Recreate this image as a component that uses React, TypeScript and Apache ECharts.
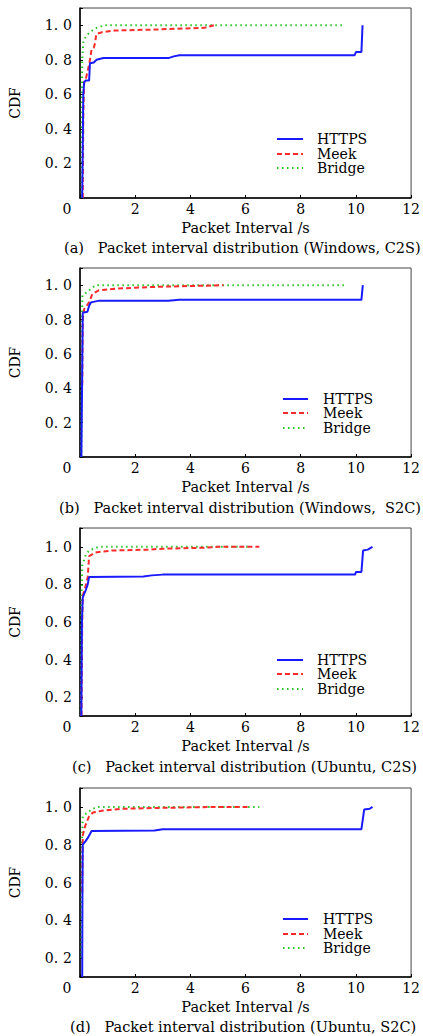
import React, { useEffect, useRef } from "react";
import * as echarts from "echarts";

// ---- Data ----
const seriesNames = ["HTTPS", "Meek", "Bridge"];
const xTicks = [0, 2, 4, 6, 8, 10, 12];
const NB = "\u00a0";
const captions = [
  `(a)${NB}${NB}${NB}Packet interval distribution (Windows, C2S)`,
  `(b)${NB}${NB}${NB}Packet interval distribution (Windows,${NB}${NB}S2C)`,
  `(c)${NB}${NB}${NB}Packet interval distribution (Ubuntu, C2S)`,
  `(d)${NB}${NB}${NB}Packet interval distribution (Ubuntu, S2C)`,
];
const yMins = [0, 0, 0.1, 0.1];

const httpsA = [[0.08, 0], [0.1, 0.3], [0.12, 0.6], [0.15, 0.67], [0.2, 0.68], [0.33, 0.68], [0.36, 0.78], [0.5, 0.785], [0.6, 0.8], [0.85, 0.81], [3.2, 0.81], [3.4, 0.82], [3.6, 0.826], [9.95, 0.826], [10.0, 0.845], [10.2, 0.845], [10.24, 1.0]];
const meekA = [[0.1, 0], [0.12, 0.5], [0.15, 0.67], [0.21, 0.69], [0.3, 0.75], [0.36, 0.8], [0.42, 0.86], [0.5, 0.87], [0.55, 0.9], [0.59, 0.95], [0.8, 0.96], [1.27, 0.97], [2.7, 0.975], [3.5, 0.98], [4.5, 0.985], [4.85, 1.0]];
const bridgeA = [[0.06, 0], [0.07, 0.5], [0.08, 0.8], [0.12, 0.9], [0.2, 0.93], [0.3, 0.95], [0.45, 0.97], [0.6, 0.985], [0.9, 1.0], [9.5, 1.0]];

const httpsB = [[0.05, 0], [0.08, 0.5], [0.1, 0.84], [0.27, 0.845], [0.33, 0.88], [0.4, 0.9], [0.7, 0.91], [3.2, 0.91], [3.6, 0.915], [10.2, 0.915], [10.25, 1.0]];
const meekB = [[0.08, 0.42], [0.1, 0.8], [0.15, 0.86], [0.33, 0.9], [0.45, 0.95], [0.68, 0.97], [1.3, 0.98], [2.7, 0.99], [4.0, 0.995], [5.2, 1.0]];
const bridgeB = [[0.05, 0], [0.07, 0.8], [0.09, 0.94], [0.33, 0.97], [0.56, 1.0], [9.67, 1.0]];

const httpsC = [[0.05, 0.1], [0.07, 0.6], [0.1, 0.73], [0.15, 0.75], [0.21, 0.77], [0.28, 0.8], [0.33, 0.84], [2.3, 0.842], [2.6, 0.848], [3.0, 0.852], [9.97, 0.852], [10.0, 0.866], [10.2, 0.866], [10.26, 0.98], [10.43, 0.985], [10.6, 1.0]];
const meekC = [[0.05, 0.1], [0.08, 0.6], [0.1, 0.74], [0.2, 0.79], [0.28, 0.84], [0.33, 0.95], [0.56, 0.97], [1.15, 0.98], [2.5, 0.985], [3.0, 0.99], [4.5, 0.995], [5.0, 1.0], [6.5, 1.0]];
const bridgeC = [[0.03, 0.1], [0.05, 0.7], [0.08, 0.9], [0.15, 0.93], [0.21, 0.96], [0.33, 0.98], [0.5, 0.99], [0.68, 1.0], [6.1, 1.0]];

const httpsD = [[0.08, 0.1], [0.09, 0.6], [0.1, 0.8], [0.21, 0.82], [0.3, 0.84], [0.42, 0.872], [2.7, 0.875], [3.0, 0.882], [10.2, 0.882], [10.3, 0.986], [10.5, 0.99], [10.6, 1.0]];
const meekD = [[0.08, 0.55], [0.1, 0.85], [0.19, 0.9], [0.33, 0.95], [0.47, 0.97], [0.8, 0.98], [1.5, 0.99], [3.0, 0.995], [5.0, 1.0], [6.1, 1.0]];
const bridgeD = [[0.05, 0.2], [0.07, 0.8], [0.1, 0.95], [0.27, 0.97], [0.45, 0.99], [0.68, 1.0], [6.5, 1.0]];

const panelData = [
  [httpsA, meekA, bridgeA],
  [httpsB, meekB, bridgeB],
  [httpsC, meekC, bridgeC],
  [httpsD, meekD, bridgeD],
];

// ---- Styles / layout ----
const FONT = "DejaVu Serif";
const grids = [
  { top: 8, height: 190 },
  { top: 268, height: 189 },
  { top: 528, height: 188 },
  { top: 788, height: 189 },
];
const legendPos = [
  { x1: 277, x2: 303, tx: 317, ys: [139, 154, 168] },
  { x1: 283, x2: 308, tx: 323, ys: [399, 413, 428] },
  { x1: 277, x2: 303, tx: 317, ys: [660, 674, 689] },
  { x1: 283, x2: 308, tx: 323, ys: [919, 934, 948] },
];
const captionPos = [
  { x: 64, y: 248 },
  { x: 59, y: 508 },
  { x: 72, y: 767 },
  { x: 70, y: 1027 },
];
const lineStyles = [
  { color: "#1a1aff", width: 2, type: "solid" as any },
  { color: "#ff2a2a", width: 2, type: [5, 3] as any },
  { color: "#22c522", width: 2, type: [1.5, 3.5] as any },
];

export default function App() {
  const ref = useRef<HTMLDivElement>(null);
  useEffect(() => {
    if (!ref.current) return;
    const chart = echarts.init(ref.current, undefined, { renderer: "svg" });

    const gridOpt = grids.map((g) => ({
      left: 75,
      width: 338,
      top: g.top,
      height: g.height,
      show: true,
      borderColor: "#444",
      borderWidth: 1,
      backgroundColor: "transparent",
    }));

    const xAxes = grids.map((_, i) => ({
      type: "value",
      gridIndex: i,
      min: xTicks[0],
      max: xTicks[xTicks.length - 1],
      interval: 2,
      name: "Packet Interval /s",
      nameLocation: "middle",
      nameGap: 22,
      nameTextStyle: { fontFamily: FONT, fontSize: 14.5, color: "#000" },
      axisLine: { show: true, lineStyle: { color: "#000", width: 1.5 } },
      axisTick: { show: true, inside: true, length: 3, lineStyle: { color: "#000" } },
      axisLabel: {
        fontFamily: FONT,
        fontSize: 14,
        color: "#000",
        margin: 4,
        formatter: (v: number) => (v === 0 ? "{z|0}" : String(v)),
        rich: { z: { fontFamily: FONT, fontSize: 14, color: "#000", padding: [0, 26, 0, 0] } },
      },
      splitLine: { show: false },
    }));

    const yAxes = grids.map((_, i) => {
      const base: any = {
        type: "value",
        gridIndex: i,
        min: yMins[i],
        max: 1.1,
        name: "CDF",
        nameLocation: "middle",
        nameGap: 58,
        nameTextStyle: { fontFamily: FONT, fontSize: 14, color: "#000" },
        axisLine: { show: true, lineStyle: { color: "#000", width: 1.5 } },
        axisTick: { show: true, inside: true, length: 3, lineStyle: { color: "#000" } },
        axisLabel: {
          fontFamily: FONT,
          fontSize: 14,
          color: "#000",
          margin: 8,
          formatter: (v: number) => {
            const r = Math.round(v * 10) / 10;
            if (r < 0.15 || r > 1.05 || Math.abs(v * 5 - Math.round(v * 5)) > 1e-6) return "";
            const s = r.toFixed(1).split(".");
            return `{a|${s[0]}.}{b|${s[1]}}`;
          },
          rich: {
            a: { fontFamily: FONT, fontSize: 14, color: "#000" },
            b: { fontFamily: FONT, fontSize: 14, color: "#000", padding: [0, 0, 0, 5] },
          },
        },
        splitLine: { show: false },
      };
      if (yMins[i] === 0) base.interval = 0.2;
      else base.splitNumber = 5;
      return base;
    });

    const series: any[] = [];
    panelData.forEach((arrs, i) => {
      arrs.forEach((d, k) => {
        series.push({
          type: "line",
          name: seriesNames[k],
          xAxisIndex: i,
          yAxisIndex: i,
          data: d,
          showSymbol: false,
          symbol: "none",
          lineStyle: lineStyles[k],
          z: 3 - k,
        });
      });
    });

    const graphic: any[] = [];
    legendPos.forEach((lp) => {
      lp.ys.forEach((y, k) => {
        graphic.push({
          type: "line",
          shape: { x1: lp.x1, y1: y, x2: lp.x2, y2: y },
          style: { stroke: lineStyles[k].color, lineWidth: 2, lineDash: k === 0 ? null : k === 1 ? [5, 3] : [1.5, 3.5] },
        });
        graphic.push({
          type: "text",
          x: lp.tx,
          y,
          style: { text: seriesNames[k], font: `14px "${FONT}"`, fill: "#000", verticalAlign: "middle" },
        });
      });
    });
    captionPos.forEach((cp, i) => {
      graphic.push({
        type: "text",
        x: cp.x,
        y: cp.y,
        style: { text: captions[i], font: `14.5px "${FONT}"`, fill: "#000", verticalAlign: "middle" },
      });
    });

    chart.setOption({
      animation: false,
      backgroundColor: "#fff",
      grid: gridOpt,
      xAxis: xAxes,
      yAxis: yAxes,
      series,
      graphic,
    });
    return () => chart.dispose();
  }, []);
  return (
    <div
      ref={ref}
      style={{ position: "absolute", left: 0, top: 0, width: 423, height: 1036, background: "#fff" }}
    />
  );
}
